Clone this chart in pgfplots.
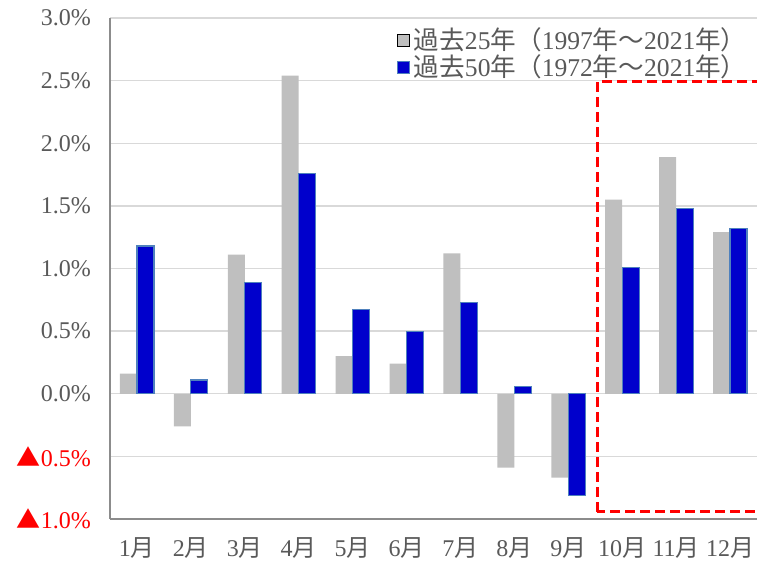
\documentclass[border=0pt]{standalone}
\usepackage{pgfplots}
\pgfplotsset{compat=1.18}
\usepackage{fontspec}
\setmainfont{Liberation Serif}
\newfontfamily\cjk{Noto Sans CJK JP}
\definecolor{gbar}{HTML}{BFBFBF}
\definecolor{bbar}{HTML}{0000CC}
\definecolor{bedge}{HTML}{4F81BD}
\definecolor{txt}{HTML}{595959}
\definecolor{gridc}{HTML}{D9D9D9}
\definecolor{axc}{HTML}{8C8C8C}
\begin{document}
\begin{tikzpicture}
\begin{axis}[
  at={(0,0)}, anchor=south west,
  scale only axis, width=323.5pt, height=250.5pt,
  xmin=-0.5, xmax=11.5, ymin=-1, ymax=3,
  ybar=0pt, bar width=8.5pt,
  xtick={0,1,2,3,4,5,6,7,8,9,10,11},
  xticklabels={1{\cjk 月},2{\cjk 月},3{\cjk 月},4{\cjk 月},5{\cjk 月},6{\cjk 月},7{\cjk 月},8{\cjk 月},9{\cjk 月},10{\cjk 月},11{\cjk 月},12{\cjk 月}},
  ytick={-1,-0.5,0,0.5,1,1.5,2,2.5,3},
  yticklabels={{\textcolor{red}{{\cjk ▲}1.0\%}},{\textcolor{red}{{\cjk ▲}0.5\%}},0.0\%,0.5\%,1.0\%,1.5\%,2.0\%,2.5\%,3.0\%},
  axis x line*=bottom, axis y line*=left,
  axis line style={axc, line width=0.8pt},
  major tick length=0pt,
  ymajorgrids, grid style={gridc, line width=0.7pt},
  tick label style={font=\fontsize{12}{14}\selectfont, text=txt},
  yticklabel style={xshift=-6pt},
  xticklabel style={yshift=-6pt},
  legend style={at={(1.0,0.997)}, anchor=north east, draw=none, fill=none,
    font=\fontsize{12.8}{14}\selectfont, text=txt, row sep=-3pt,
    nodes={inner sep=2pt}},
  legend cell align=left,
  legend image code/.code={\draw[#1, line width=0.5pt] (0pt,-3pt) rectangle (6pt,3pt);},
  clip=false,
]
\addplot[fill=gbar, draw=none] coordinates {
(0,0.16) (1,-0.26) (2,1.11) (3,2.54) (4,0.30) (5,0.24) (6,1.12) (7,-0.59) (8,-0.67) (9,1.55) (10,1.89) (11,1.29)};
\addlegendentry{{\cjk 過去}25{\cjk 年（}1997{\cjk 年～}2021{\cjk 年）}}
\addplot[fill=bbar, draw=bedge, line width=0.6pt] coordinates {
(0,1.18) (1,0.11) (2,0.89) (3,1.76) (4,0.67) (5,0.50) (6,0.73) (7,0.06) (8,-0.81) (9,1.01) (10,1.48) (11,1.32)};
\addlegendentry{{\cjk 過去}50{\cjk 年（}1972{\cjk 年～}2021{\cjk 年）}}
\draw[red, line width=1.5pt, dash pattern=on 5pt off 2.5pt] (axis cs:8.54,-0.944) rectangle (axis cs:11.9,2.49);
\end{axis}
\pgfresetboundingbox
\useasboundingbox (-55pt,-22pt) rectangle (323.5pt,259.5pt);
\end{tikzpicture}
\end{document}
